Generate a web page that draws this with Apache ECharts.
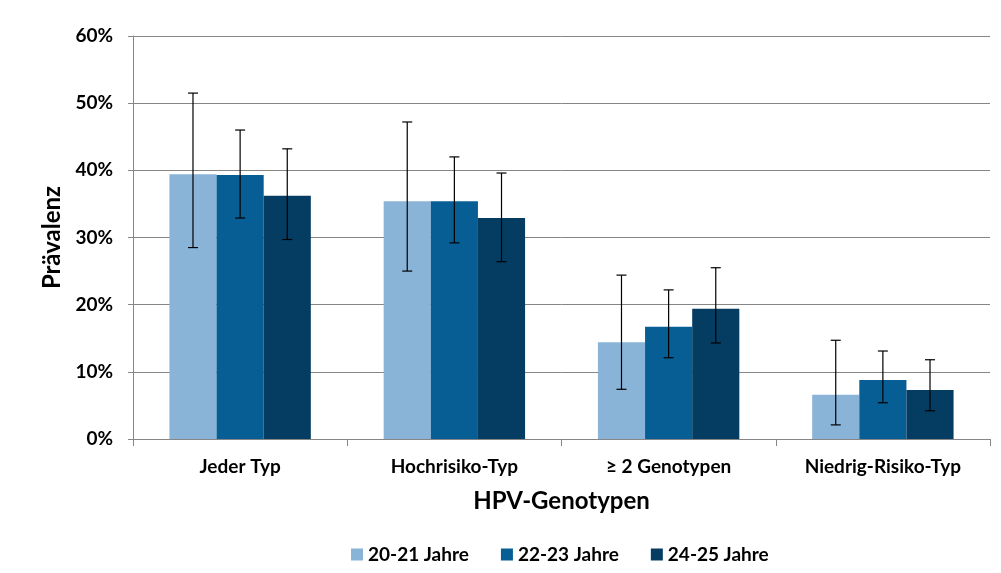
<!DOCTYPE html>
<html><head><meta charset="utf-8">
<script src="https://cdn.jsdelivr.net/npm/echarts@6/dist/echarts.min.js"></script>
<style>html,body{margin:0;padding:0;background:#fff}#c{width:1001px;height:573px}</style>
</head><body><div id="c"></div>
<script>
const categories = ['Jeder Typ', 'Hochrisiko-Typ', '≥ 2 Genotypen', 'Niedrig-Risiko-Typ'];
const seriesNames = ['20-21 Jahre', '22-23 Jahre', '24-25 Jahre'];
const val2021 = [39.4, 35.4, 14.4, 6.6];
const val2223 = [39.3, 35.4, 16.7, 8.8];
const val2425 = [36.2, 32.9, 19.4, 7.3];
const lo2021 = [28.5, 25.0, 7.4, 2.1];
const hi2021 = [51.5, 47.2, 24.4, 14.7];
const lo2223 = [32.9, 29.2, 12.1, 5.4];
const hi2223 = [46.0, 42.0, 22.2, 13.1];
const lo2425 = [29.7, 26.4, 14.3, 4.2];
const hi2425 = [43.2, 39.6, 25.5, 11.8];
const yTicks = [0, 10, 20, 30, 40, 50, 60];

const colors = ['#8AB3D8', '#065E94', '#053D62'];
const values = [val2021, val2223, val2425];
const lows = [lo2021, lo2223, lo2425];
const highs = [hi2021, hi2223, hi2425];
const CAT_GAP = 0.34;
const FONT = 'Lato';

const barSeries = seriesNames.map((n, i) => ({
  name: n, type: 'bar', data: values[i], barGap: '0%', barCategoryGap: (CAT_GAP * 100) + '%',
  itemStyle: { color: colors[i] }, z: 2
}));

const errSeries = seriesNames.map((n, i) => ({
  type: 'custom', name: n + ' err', z: 5, silent: true,
  data: categories.map((c, k) => [k, lows[i][k], highs[i][k]]),
  encode: { x: 0, y: [1, 2] },
  renderItem: function (params, api) {
    const k = api.value(0);
    const band = api.size([1, 0])[0];
    const bw = band * (1 - CAT_GAP) / 3;
    const off = (i - 1) * bw;
    const p1 = api.coord([k, api.value(1)]);
    const p2 = api.coord([k, api.value(2)]);
    const x = p1[0] + off;
    const cap = 5;
    const st = { stroke: '#000', lineWidth: 1.2 };
    return { type: 'group', children: [
      { type: 'line', shape: { x1: x, y1: p1[1], x2: x, y2: p2[1] }, style: st },
      { type: 'line', shape: { x1: x - cap, y1: p1[1], x2: x + cap, y2: p1[1] }, style: st },
      { type: 'line', shape: { x1: x - cap, y1: p2[1], x2: x + cap, y2: p2[1] }, style: st }
    ]};
  }
}));

const chart = echarts.init(document.getElementById('c'), null, { renderer: 'canvas' });
chart.setOption({
  animation: false,
  backgroundColor: '#fff',
  grid: { left: 133, right: 11, top: 36, bottom: 134, containLabel: false },
  legend: {
    data: seriesNames, left: 346, top: 540, icon: 'rect', itemWidth: 12, itemHeight: 12, itemGap: 32,
    textStyle: { fontFamily: FONT, fontWeight: 'bold', fontSize: 19, color: '#000' }
  },
  xAxis: {
    type: 'category', data: categories,
    name: 'HPV-Genotypen', nameLocation: 'middle', nameGap: 50,
    nameTextStyle: { fontFamily: FONT, fontWeight: 'bold', fontSize: 24, color: '#000' },
    axisLine: { lineStyle: { color: '#868686', width: 1 } },
    axisTick: { show: true, length: 7, lineStyle: { color: '#868686' } },
    axisLabel: { fontFamily: FONT, fontWeight: 'bold', fontSize: 19, color: '#000', margin: 18 }
  },
  yAxis: {
    type: 'value', min: 0, max: 60, interval: 10,
    name: 'Prävalenz', nameLocation: 'middle', nameGap: 64, nameRotate: 90,
    nameTextStyle: { fontFamily: FONT, fontWeight: 'bold', fontSize: 24, color: '#000' },
    axisLine: { show: true, lineStyle: { color: '#868686', width: 1 } },
    axisTick: { show: true, length: 5, lineStyle: { color: '#868686' } },
    axisLabel: { fontFamily: FONT, fontWeight: 'bold', fontSize: 19, color: '#000', margin: 20,
      formatter: v => yTicks.includes(v) ? v + '%' : '' },
    splitLine: { lineStyle: { color: '#868686', width: 1 } }
  },
  series: [...barSeries, ...errSeries]
});
</script></body></html>
